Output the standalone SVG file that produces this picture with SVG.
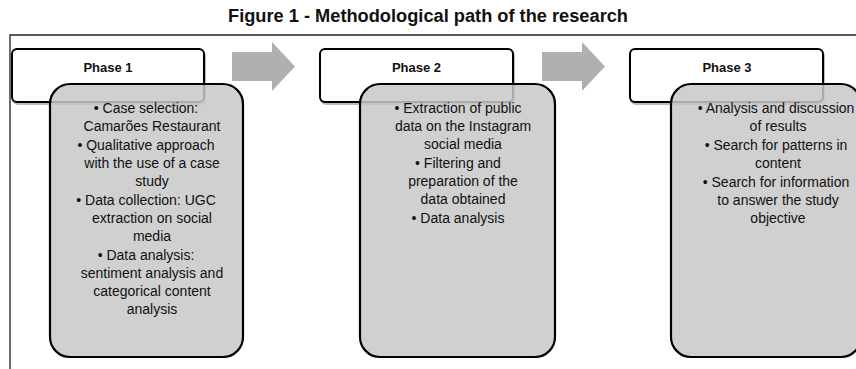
<svg xmlns="http://www.w3.org/2000/svg" width="856" height="369" viewBox="0 0 856 369">
<style>
  text { font-family: "Liberation Sans", Arial, sans-serif; fill: #111; }
  .title { font-size: 17.5px; font-weight: bold; text-anchor: middle; }
  .hdr { fill: #fff; stroke: #000; stroke-width: 2; }
  .hdrsh { fill: none; stroke: #bbb; stroke-width: 2; }
  .htxt { font-size: 13px; font-weight: bold; text-anchor: middle; }
  .body { fill: #c8c8c8; fill-opacity: 0.85; stroke: #000; stroke-width: 2.2; }
  .t { font-size: 14px; text-anchor: middle; }
  .arrow { fill: #b0b0b0; }
  .frame { fill: none; stroke: #222; stroke-width: 1.3; }
</style>
<defs>
  <path id="arr" d="M0,10 H40 V0 L63,24.5 L40,49 V39 H0 Z"/>
</defs>
<text class="title" x="428" y="22" textLength="400" lengthAdjust="spacingAndGlyphs">Figure 1 - Methodological path of the research</text>
<path class="frame" d="M10,369 V35 H857"/>
<g id="connectors">
  <use href="#arr" class="arrow" x="232" y="42"/>
  <use href="#arr" class="arrow" x="542" y="42"/>
</g>
<g id="phase1">
  <rect class="hdrsh" x="13" y="51" width="192" height="53" rx="5"/>
  <rect class="hdr" x="12" y="49" width="192" height="53" rx="5"/>
  <text class="htxt" x="108" y="72">Phase 1</text>
  <rect class="body" x="50" y="84" width="193" height="273" rx="20"/>
  <text class="t" x="146" y="113">• Case selection:</text>
  <text class="t" x="152" y="131">Camarões Restaurant</text>
  <text class="t" x="146" y="150">• Qualitative approach</text>
  <text class="t" x="152" y="168">with the use of a case</text>
  <text class="t" x="152" y="186">study</text>
  <text class="t" x="146" y="205">• Data collection: UGC</text>
  <text class="t" x="152" y="223">extraction on social</text>
  <text class="t" x="152" y="241">media</text>
  <text class="t" x="146" y="260">• Data analysis:</text>
  <text class="t" x="152" y="278">sentiment analysis and</text>
  <text class="t" x="152" y="296">categorical content</text>
  <text class="t" x="152" y="314">analysis</text>
</g>
<g id="phase2">
  <rect class="hdrsh" x="321" y="51" width="193" height="53" rx="5"/>
  <rect class="hdr" x="320" y="49" width="193" height="53" rx="5"/>
  <text class="htxt" x="416.5" y="72">Phase 2</text>
  <rect class="body" x="360" y="84" width="195" height="273" rx="20"/>
  <text class="t" x="458" y="113">• Extraction of public</text>
  <text class="t" x="463" y="131">data on the Instagram</text>
  <text class="t" x="463" y="149">social media</text>
  <text class="t" x="458" y="168">• Filtering and</text>
  <text class="t" x="463" y="186">preparation of the</text>
  <text class="t" x="463" y="204">data obtained</text>
  <text class="t" x="458" y="223">• Data analysis</text>
</g>
<g id="phase3">
  <rect class="hdrsh" x="631" y="51" width="193" height="53" rx="5"/>
  <rect class="hdr" x="630" y="49" width="193" height="53" rx="5"/>
  <text class="htxt" x="727" y="72">Phase 3</text>
  <rect class="body" x="671" y="84" width="190" height="273" rx="20"/>
  <text class="t" x="776" y="113">• Analysis and discussion</text>
  <text class="t" x="778" y="131">of results</text>
  <text class="t" x="776" y="150">• Search for patterns in</text>
  <text class="t" x="778" y="168">content</text>
  <text class="t" x="776" y="187">• Search for information</text>
  <text class="t" x="778" y="205">to answer the study</text>
  <text class="t" x="778" y="223">objective</text>
</g>
</svg>
